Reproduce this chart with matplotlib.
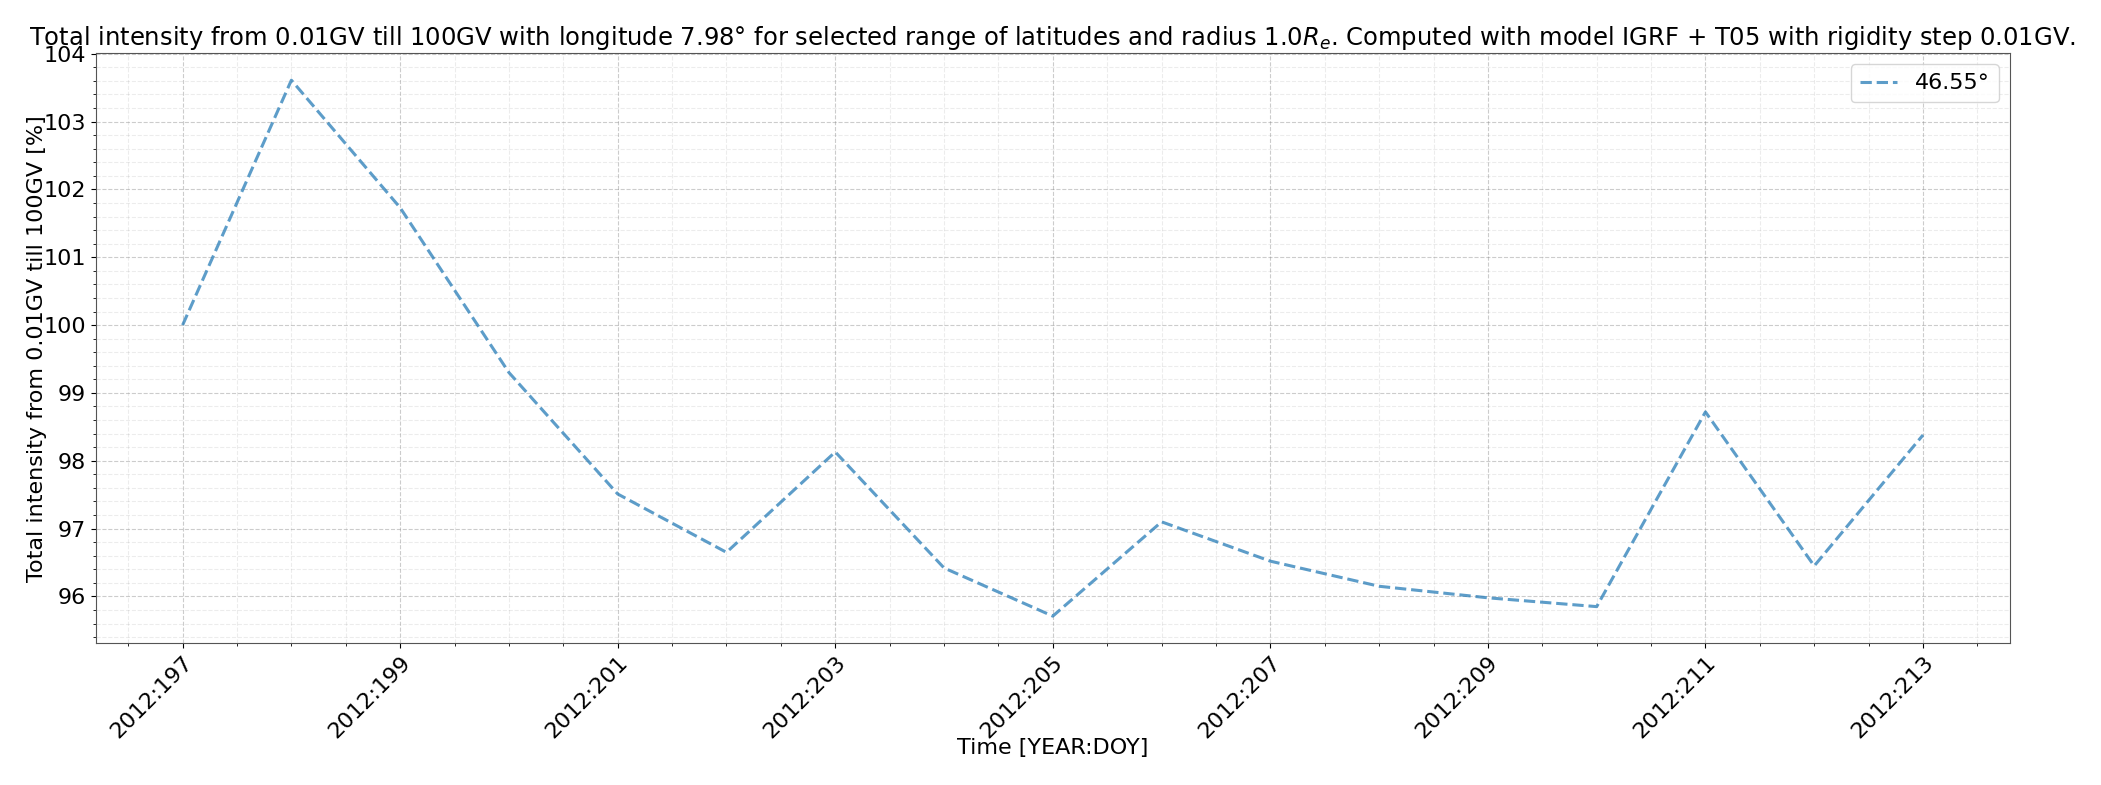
import matplotlib
matplotlib.use("Agg")
import matplotlib.pyplot as plt
from matplotlib.ticker import FixedLocator, AutoMinorLocator, FuncFormatter

# Day of year (2012) and total intensity [%] for latitude 46.55
year = 2012
doy = [197, 198, 199, 200, 201, 202, 203, 204, 205, 206, 207, 208, 209, 210, 211, 212, 213]
intensity = [100.0, 103.61, 101.73, 99.30, 97.51, 96.65, 98.13, 96.42, 95.71,
             97.10, 96.52, 96.15, 95.98, 95.85, 98.72, 96.45, 98.38]
label = "46.55°"

title = ("Total intensity from 0.01GV till 100GV with longitude 7.98° for selected range of "
         "latitudes and radius 1.0$R_e$. Computed with model IGRF + T05 with rigidity step 0.01GV.")


def main():
    fig, ax = plt.subplots(figsize=(21.01, 7.85), dpi=100)
    fig.subplots_adjust(left=0.0455, right=0.9567, top=0.932, bottom=0.181)

    ax.plot(doy, intensity, linestyle="--", linewidth=2.2, color="tab:blue", alpha=0.72, label=label)

    ax.set_title(title, fontsize=17.5)
    ax.set_xlabel("Time [YEAR:DOY]", fontsize=16, labelpad=-3)
    ax.set_ylabel("Total intensity from 0.01GV till 100GV [%]", fontsize=16, labelpad=-3)

    # Ticks every 2 days, labelled YEAR:DOY
    ax.xaxis.set_major_locator(FixedLocator(doy[::2]))
    ax.xaxis.set_major_formatter(FuncFormatter(lambda v, p: f"{year}:{int(round(v))}"))
    ax.xaxis.set_minor_locator(AutoMinorLocator(4))
    ax.yaxis.set_minor_locator(AutoMinorLocator(5))
    ax.tick_params(axis="both", which="major", labelsize=16)
    plt.setp(ax.get_xticklabels(), rotation=45, ha="right", rotation_mode="anchor")

    ax.grid(True, which="major", linestyle="--", color="gray", alpha=0.4)
    ax.grid(True, which="minor", linestyle="--", color="gray", alpha=0.15)
    for s in ax.spines.values():
        s.set_color("#555555")

    ax.legend(loc="upper right", fontsize=16, handlelength=1.7)

    fig.savefig("out.png", dpi=100)


if __name__ == "__main__":
    main()
